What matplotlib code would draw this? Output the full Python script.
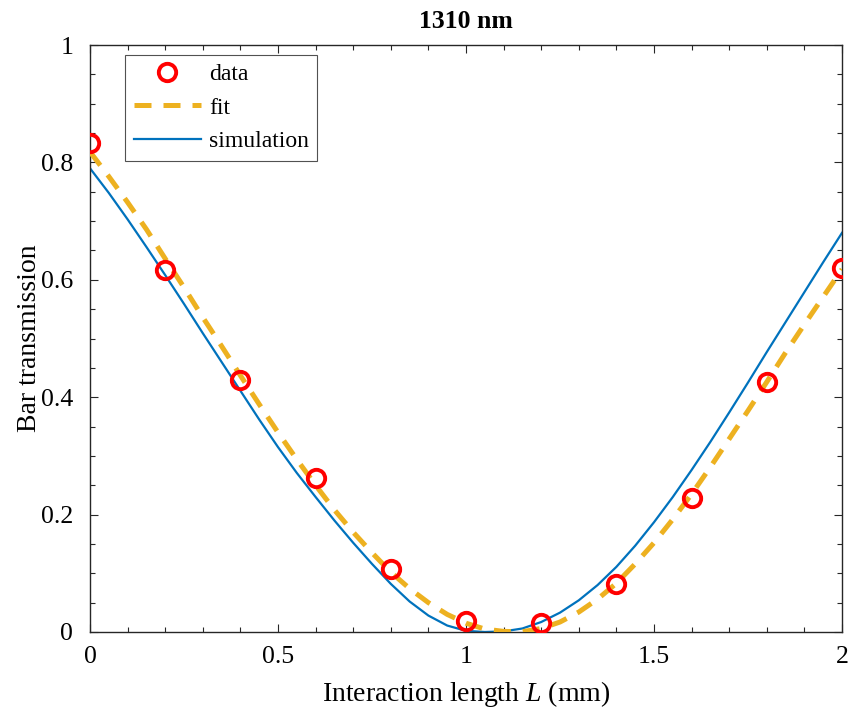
import matplotlib
matplotlib.use('Agg')
import matplotlib.pyplot as plt
from matplotlib.ticker import MultipleLocator

plt.rcParams['font.family'] = ['Liberation Serif', 'DejaVu Serif']
plt.rcParams['mathtext.fontset'] = 'custom'
plt.rcParams['mathtext.rm'] = 'Liberation Serif'
plt.rcParams['mathtext.it'] = 'Liberation Serif:italic'

# measured points
L_data = [0.0, 0.2, 0.4, 0.6, 0.8, 1.0, 1.2, 1.4, 1.6, 1.8, 2.0]
T_data = [0.833, 0.617, 0.430, 0.262, 0.107, 0.018, 0.016, 0.081, 0.228, 0.426, 0.620]

# curves every 0.05 mm
L_curve = [0.00, 0.05, 0.10, 0.15, 0.20, 0.25, 0.30, 0.35, 0.40, 0.45,
           0.50, 0.55, 0.60, 0.65, 0.70, 0.75, 0.80, 0.85, 0.90, 0.95,
           1.00, 1.05, 1.10, 1.15, 1.20, 1.25, 1.30, 1.35, 1.40, 1.45,
           1.50, 1.55, 1.60, 1.65, 1.70, 1.75, 1.80, 1.85, 1.90, 1.95, 2.00]
T_fit = [0.818, 0.776, 0.732, 0.686, 0.636, 0.587, 0.536, 0.487, 0.437, 0.388,
         0.340, 0.294, 0.250, 0.208, 0.170, 0.135, 0.102, 0.074, 0.050, 0.030,
         0.015, 0.005, 0.001, 0.0005, 0.006, 0.017, 0.034, 0.056, 0.083, 0.116,
         0.152, 0.192, 0.235, 0.281, 0.329, 0.377, 0.426, 0.476, 0.524, 0.571, 0.618]
T_sim = [0.790, 0.748, 0.703, 0.656, 0.608, 0.559, 0.509, 0.460, 0.411, 0.362,
         0.315, 0.271, 0.230, 0.190, 0.152, 0.116, 0.082, 0.052, 0.028, 0.011,
         0.002, 0.000, 0.001, 0.006, 0.017, 0.033, 0.054, 0.080, 0.111, 0.147,
         0.187, 0.230, 0.276, 0.324, 0.374, 0.425, 0.477, 0.528, 0.579, 0.630, 0.680]

fig = plt.figure(figsize=(8.48, 7.11), dpi=100)
ax = fig.add_axes([90/848, 79/711, 752/848, 587/711])

ax.plot(L_data, T_data, 'o', color='red', mfc='none', ms=12.5, mew=2.8,
        label='data', zorder=4)
ax.plot(L_curve, T_fit, color='#EDB120', lw=3.6, dashes=(3.4, 2.4),
        label='fit', zorder=3)
ax.plot(L_curve, T_sim, color='#0072BD', lw=1.6, label='simulation', zorder=2)

ax.set_xlim(0, 2)
ax.set_ylim(0, 1)
ax.xaxis.set_minor_locator(MultipleLocator(0.1))
ax.yaxis.set_minor_locator(MultipleLocator(0.05))
ax.set_xticks([0, 0.5, 1, 1.5, 2])
ax.set_xticklabels(['0', '0.5', '1', '1.5', '2'])
ax.set_yticks([0, 0.2, 0.4, 0.6, 0.8, 1])
ax.set_yticklabels(['0', '0.2', '0.4', '0.6', '0.8', '1'])
ax.tick_params(which='both', direction='in', top=True, right=True,
               color='#262626', labelsize=18.5, width=0.8)
ax.tick_params(axis='x', which='major', length=6, pad=10)
ax.tick_params(axis='y', which='major', length=6, pad=12)
ax.tick_params(which='minor', length=3.5)
for s in ax.spines.values():
    s.set_color('#262626')
    s.set_linewidth(1.0)

ax.set_xlabel('Interaction length $\\mathit{L}$ (mm)', fontsize=20, labelpad=8)
ax.set_ylabel('Bar transmission', fontsize=20)
ax.yaxis.set_label_coords(-0.064, 0.5)
ax.set_title('1310 nm', fontsize=18.5, fontweight='bold', pad=12)

leg = ax.legend(loc='upper left', bbox_to_anchor=(0.047, 0.983), fontsize=17,
                frameon=True, fancybox=False, edgecolor='#262626',
                handlelength=2.85, handletextpad=0.35, borderpad=0.35,
                labelspacing=0.52, borderaxespad=0)
leg.get_frame().set_linewidth(0.8)

fig.savefig('out.png', dpi=100)
